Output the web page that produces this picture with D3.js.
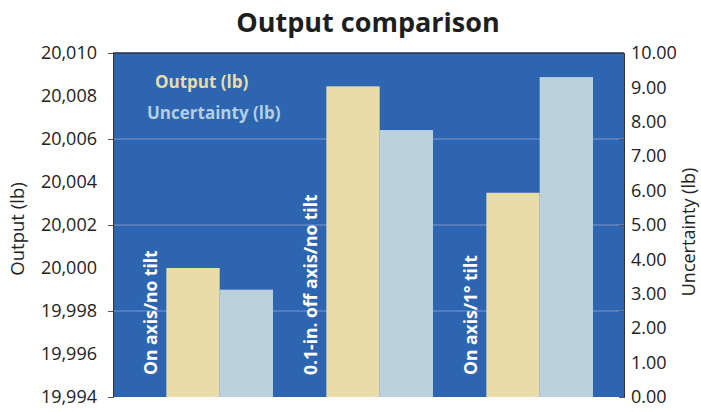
<!DOCTYPE html>
<html>
<head>
<meta charset="utf-8">
<script src="https://cdn.jsdelivr.net/npm/d3@7"></script>
<style>
  body { margin: 0; background: #fff; }
  svg { display: block; font-family: "Open Sans", sans-serif; }
</style>
</head>
<body>
<div id="chart"></div>
<script>
// values
const categories = ["On axis/no tilt", "0.1-in. off axis/no tilt", "On axis/1\u00b0 tilt"];
const outputValues = [20000.0, 20008.45, 20003.5];
const uncertaintyValues = [3.12, 7.76, 9.3];
const leftTicks = [19994, 19996, 19998, 20000, 20002, 20004, 20006, 20008, 20010];
const rightTicks = [0, 1, 2, 3, 4, 5, 6, 7, 8, 9, 10];
const gridValues = [19998, 20002, 20006];

const width = 701, height = 412;
const margin = {top: 53, right: 77, bottom: 15, left: 113};
const plotW = width - margin.left - margin.right;
const plotH = height - margin.top - margin.bottom;

const colors = {bg: "#2d65b0", output: "#e8dda9", uncertainty: "#bbd2dc"};

const svg = d3.select("#chart").append("svg")
    .attr("width", width)
    .attr("height", height);

const chart = svg.append("g")
    .attr("transform", `translate(${margin.left},${margin.top})`);

// scales
const yLeft = d3.scaleLinear().domain([19994, 20010]).range([plotH, 0]);
const yRight = d3.scaleLinear().domain([0, 10]).range([plotH, 0]);

// each category gets a label slot, then the two bars
const x0 = d3.scaleBand().domain(categories).range([0, 480]);
const x1 = d3.scaleBand().domain(["label", "output", "uncertainty"]).range([0, x0.bandwidth()]);

// blue background
chart.append("rect")
    .attr("width", plotW)
    .attr("height", plotH)
    .attr("fill", colors.bg);

// faint gridlines
chart.selectAll(".grid")
    .data(gridValues)
    .join("line")
    .attr("class", "grid")
    .attr("x1", 0)
    .attr("x2", plotW)
    .attr("y1", d => yLeft(d))
    .attr("y2", d => yLeft(d))
    .attr("stroke", "#c9c3de")
    .attr("stroke-opacity", 0.55)
    .attr("stroke-width", 1);

// bars
const groups = chart.selectAll(".group")
    .data(categories)
    .join("g")
    .attr("class", "group")
    .attr("transform", d => `translate(${x0(d)},0)`);

groups.append("rect")
    .attr("x", x1("output"))
    .attr("width", x1.bandwidth())
    .attr("y", (d, i) => yLeft(outputValues[i]))
    .attr("height", (d, i) => plotH - yLeft(outputValues[i]))
    .attr("fill", colors.output);

groups.append("rect")
    .attr("x", x1("uncertainty"))
    .attr("width", x1.bandwidth())
    .attr("y", (d, i) => yRight(uncertaintyValues[i]))
    .attr("height", (d, i) => plotH - yRight(uncertaintyValues[i]))
    .attr("fill", colors.uncertainty);

// vertical category labels
groups.append("text")
    .attr("transform", `translate(${x1("label") + 44},${plotH - 22}) rotate(-90)`)
    .attr("fill", "#fff")
    .attr("font-weight", 700)
    .attr("font-size", 17.5)
    .text(d => d);

// legend
chart.append("text")
    .attr("x", 42).attr("y", 35)
    .attr("fill", colors.output)
    .attr("font-weight", 700)
    .attr("font-size", 17)
    .text("Output (lb)");

chart.append("text")
    .attr("x", 34).attr("y", 66)
    .attr("fill", "#b3cfe0")
    .attr("font-weight", 700)
    .attr("font-size", 17)
    .text("Uncertainty (lb)");

// left axis: labels every 2, ticks every 4
const leftAxisG = chart.append("g")
    .call(d3.axisLeft(yLeft).tickValues(leftTicks).tickSize(0).tickPadding(16)
        .tickFormat(d3.format(",")));
leftAxisG.append("g")
    .call(d3.axisLeft(yLeft).tickValues(d3.range(19994, 20011, 4)).tickSize(5).tickFormat(""));

// right axis
const rightAxisG = chart.append("g")
    .attr("transform", `translate(${plotW},0)`)
    .call(d3.axisRight(yRight).tickValues(rightTicks).tickSize(0).tickPadding(7)
        .tickFormat(d3.format(".2f")));
rightAxisG.append("g")
    .call(d3.axisLeft(yRight).tickValues([0, 2.5, 5, 7.5, 10]).tickSize(5).tickFormat(""));

svg.selectAll(".domain").attr("stroke", "#333").attr("stroke-width", 1);
svg.selectAll(".tick line").attr("stroke", "#555");
svg.selectAll(".tick text")
    .attr("font-family", "Open Sans, sans-serif")
    .attr("font-size", 18)
    .attr("fill", "#222");

// dark top edge
chart.append("line")
    .attr("x1", 0).attr("x2", plotW)
    .attr("stroke", "#2a2f45").attr("stroke-width", 1.5);

// title
svg.append("text")
    .attr("x", 368).attr("y", 32)
    .attr("text-anchor", "middle")
    .attr("font-weight", 700)
    .attr("font-size", 27)
    .attr("fill", "#1e1e1e")
    .text("Output comparison");

// axis titles
svg.append("text")
    .attr("transform", `translate(24,${margin.top + 176}) rotate(-90)`)
    .attr("text-anchor", "middle")
    .attr("font-size", 18.5)
    .attr("fill", "#222")
    .text("Output (lb)");

svg.append("text")
    .attr("transform", `translate(695,${margin.top + 179}) rotate(-90)`)
    .attr("text-anchor", "middle")
    .attr("font-size", 18)
    .attr("fill", "#222")
    .text("Uncertainty (lb)");
</script>
</body>
</html>
